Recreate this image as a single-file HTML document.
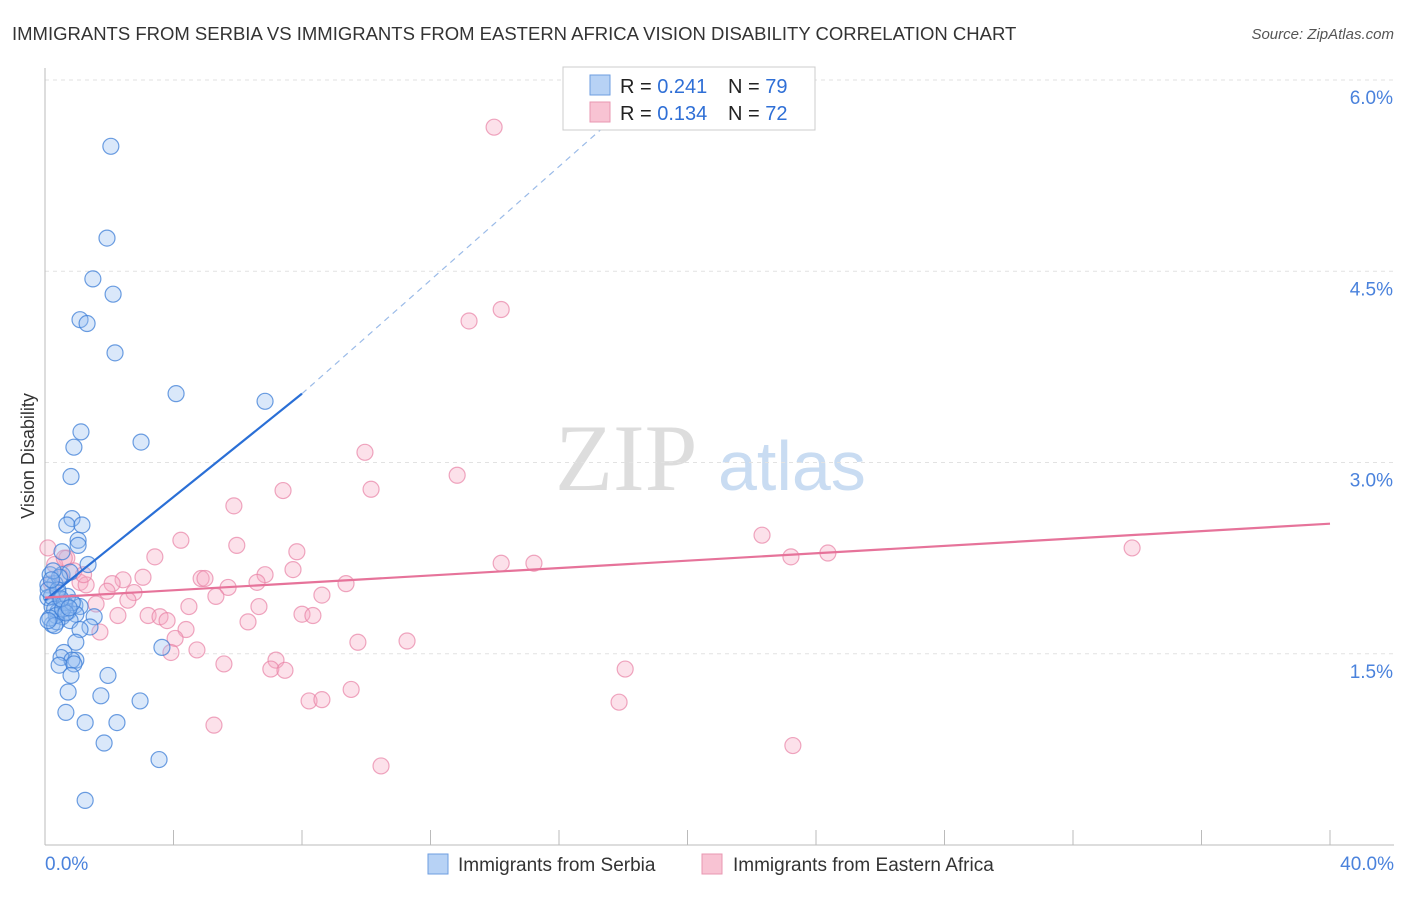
<!DOCTYPE html>
<html><head><meta charset="utf-8"><style>
body{margin:0;background:#fff;font-family:"Liberation Sans",sans-serif}
svg text{font-family:"Liberation Sans",sans-serif}
</style></head><body>
<svg id="chart" width="1406" height="892">
<text x="12" y="40" font-size="18.5" fill="#333">IMMIGRANTS FROM SERBIA VS IMMIGRANTS FROM EASTERN AFRICA VISION DISABILITY CORRELATION CHART</text>
<text x="1394" y="39" font-size="15" fill="#555" text-anchor="end" font-style="italic">Source: ZipAtlas.com</text>
<text transform="translate(34,456) rotate(-90)" font-size="18" fill="#333" text-anchor="middle">Vision Disability</text>
<g><text x="555" y="490" font-size="95" fill="#ddd" style="font-family:'Liberation Serif',serif">ZIP</text><text x="718" y="490" font-size="70" fill="#c9dcf2">atlas</text></g>
<g id="grid"></g><g id="axes"></g><g id="pts"></g><g id="lines"></g>
<g>
<rect x="563" y="67" width="252" height="63" fill="#fff" stroke="#ccc"/>
<rect x="590" y="75" width="20" height="20" fill="#b7d2f5" stroke="#6e9ee0"/>
<rect x="590" y="102" width="20" height="20" fill="#f8c3d3" stroke="#e897b2"/>
<text x="620" y="93" font-size="20" fill="#222">R = <tspan fill="#2f6fd6">0.241</tspan></text>
<text x="728" y="93" font-size="20" fill="#222">N = <tspan fill="#2f6fd6">79</tspan></text>
<text x="620" y="120" font-size="20" fill="#222">R = <tspan fill="#2f6fd6">0.134</tspan></text>
<text x="728" y="120" font-size="20" fill="#222">N = <tspan fill="#2f6fd6">72</tspan></text>
</g>
<g>
<rect x="428" y="854" width="20" height="20" fill="#b7d2f5" stroke="#6e9ee0"/>
<text x="458" y="871" font-size="19" fill="#333">Immigrants from Serbia</text>
<rect x="702" y="854" width="20" height="20" fill="#f8c3d3" stroke="#e897b2"/>
<text x="733" y="871" font-size="19" fill="#333">Immigrants from Eastern Africa</text>
</g>
</svg>
<script>
const yTicks=[1.5,3.0,4.5,6.0];
const xTickLabels=["0.0%","40.0%"];
const serbiaX=[2.05,1.93,1.49,2.12,1.09,1.31,2.18,4.08,6.85,1.12,2.99,0.90,0.81,0.84,0.68,1.15,1.03,1.03,0.53,1.34,0.16,0.53,0.78,0.31,0.09,0.40,0.09,0.47,0.62,0.22,0.93,0.40,0.72,1.09,0.53,0.96,1.53,0.78,0.22,0.37,1.40,1.09,0.96,3.64,0.59,0.50,0.96,0.84,0.44,0.90,1.96,0.81,0.72,1.74,2.96,0.65,1.25,2.24,1.84,3.55,1.25,0.2,0.3,0.1,0.6,0.45,0.35,0.7,0.25,0.15,0.55,0.85,0.4,0.3,0.65,0.2,0.5,0.75,0.1];
const serbiaY=[5.48,4.76,4.44,4.32,4.12,4.09,3.86,3.54,3.48,3.24,3.16,3.12,2.89,2.56,2.51,2.51,2.39,2.35,2.30,2.20,2.12,2.12,2.14,2.05,2.04,1.98,1.94,1.92,1.88,1.87,1.88,1.83,1.83,1.87,1.79,1.81,1.79,1.76,1.73,1.75,1.71,1.69,1.59,1.55,1.51,1.47,1.45,1.45,1.41,1.42,1.33,1.33,1.20,1.17,1.13,1.04,0.96,0.96,0.80,0.67,0.35,1.95,1.85,2.0,1.9,2.1,1.8,1.95,2.15,1.78,1.85,1.9,2.0,1.72,1.82,2.08,1.93,1.86,1.76];
const africaX=[13.98,14.2,13.2,9.96,12.83,7.41,10.15,5.88,22.32,4.23,5.97,7.84,3.42,23.22,24.37,33.84,14.2,15.22,0.09,0.68,7.72,6.85,4.86,4.98,3.05,2.43,1.09,2.09,9.37,6.60,5.70,1.28,1.93,2.77,5.32,8.62,2.58,1.59,4.48,6.66,2.27,3.21,3.58,8.00,8.34,3.80,6.32,4.39,1.71,4.05,9.74,11.27,4.73,3.92,7.19,5.57,7.03,7.47,18.06,9.53,8.22,8.62,17.87,5.26,23.28,10.46,0.3,0.5,0.9,0.2,1.2,0.6];
const africaY=[5.63,4.20,4.11,3.08,2.90,2.78,2.79,2.66,2.43,2.39,2.35,2.30,2.26,2.26,2.29,2.33,2.21,2.21,2.33,2.25,2.16,2.12,2.09,2.09,2.10,2.08,2.06,2.05,2.05,2.06,2.02,2.04,1.99,1.98,1.95,1.96,1.92,1.89,1.87,1.87,1.80,1.80,1.79,1.81,1.80,1.76,1.75,1.69,1.67,1.62,1.59,1.60,1.53,1.51,1.45,1.42,1.38,1.37,1.38,1.22,1.13,1.14,1.12,0.94,0.78,0.62,2.2,2.1,2.15,2.05,2.12,2.25];
const serbiaLine=[[0,1.92],[8.0,3.54],[18.6,5.9]];
const africaLine=[[0,1.94],[40,2.52]];
const X=v=>45+v/40*1285, Y=v=>845-v*127.5;
const NS="http://www.w3.org/2000/svg";
function mk(t,a,p){const e=document.createElementNS(NS,t);for(const k in a)e.setAttribute(k,a[k]);p.appendChild(e);return e;}
const grid=document.getElementById('grid'),axes=document.getElementById('axes'),pts=document.getElementById('pts'),lines=document.getElementById('lines');
yTicks.forEach(t=>{const l=mk('line',{x1:45,x2:1394,y1:Y(t),y2:Y(t),stroke:'#e2e2e2','stroke-dasharray':'4,4'},grid);


const tx=mk('text',{x:1393,y:Y(t)+24,'font-size':19,fill:'#4a82dc','text-anchor':'end'},grid);tx.textContent=t.toFixed(1)+'%';

});
mk('line',{x1:45,x2:45,y1:68,y2:845,stroke:'#bbb'},axes);
mk('line',{x1:45,x2:1394,y1:845,y2:845,stroke:'#bbb'},axes);
for(let i=0;i<=10;i++){const t=mk('line',{x1:X(i*4),x2:X(i*4),y1:830,y2:845,stroke:'#bbb'},axes);

}
[[0,'start',45],[40,'end',1394]].forEach((d,i)=>{const t=mk('text',{x:d[2],y:870,'font-size':19,fill:'#4a82dc','text-anchor':d[1]},axes);t.textContent=xTickLabels[i];

});
africaX.forEach((x,i)=>{const c=mk('circle',{cx:X(x),cy:Y(africaY[i]),r:8,fill:'rgba(245,170,195,0.35)',stroke:'rgba(232,130,165,0.7)','stroke-width':1.2},pts);

});
serbiaX.forEach((x,i)=>{const c=mk('circle',{cx:X(x),cy:Y(serbiaY[i]),r:8,fill:'rgba(150,190,240,0.35)',stroke:'rgba(60,125,215,0.75)','stroke-width':1.2},pts);

});
let l=mk('line',{x1:X(serbiaLine[0][0]),y1:Y(serbiaLine[0][1]),x2:X(serbiaLine[1][0]),y2:Y(serbiaLine[1][1]),stroke:'#2a6fd6','stroke-width':2.2},lines);


l=mk('line',{x1:X(serbiaLine[1][0]),y1:Y(serbiaLine[1][1]),x2:X(serbiaLine[2][0]),y2:Y(serbiaLine[2][1]),stroke:'#9bbbe8','stroke-width':1.2,'stroke-dasharray':'6,5'},lines);


l=mk('line',{x1:X(africaLine[0][0]),y1:Y(africaLine[0][1]),x2:X(africaLine[1][0]),y2:Y(africaLine[1][1]),stroke:'#e6739a','stroke-width':2.2},lines);


</script>
</body></html>
